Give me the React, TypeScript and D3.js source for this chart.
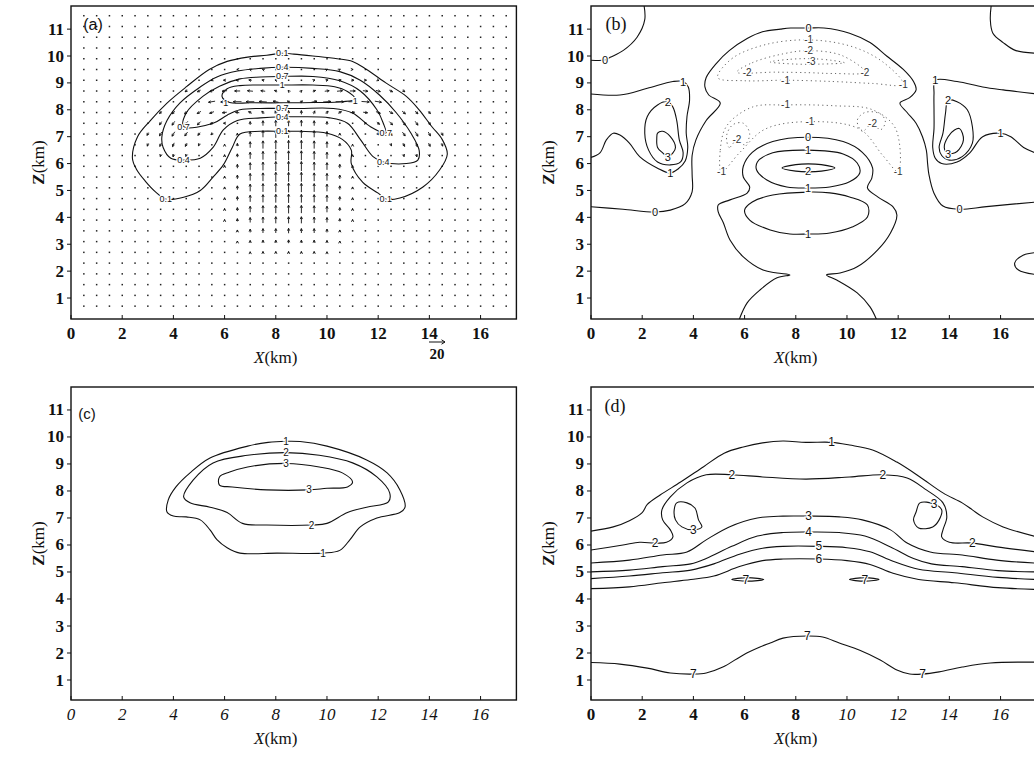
import React from 'react';
import * as d3 from 'd3';

type Pt = [number, number];
type Lab = [string, number, number];
type Vec = [number, number, number, number];
interface Iso { pts: Pt[]; closed?: boolean; dashed?: boolean; labels?: Lab[] }

// ---------- axes ----------
const zTicks = [1, 2, 3, 4, 5, 6, 7, 8, 9, 10, 11];
const xTicks = [0, 2, 4, 6, 8, 10, 12, 14, 16];

// ---------- panel (a): wind vectors on the model grid ----------
const gridX = [0.5, 1, 1.5, 2, 2.5, 3, 3.5, 4, 4.5, 5, 5.5, 6, 6.5, 7, 7.5, 8, 8.5, 9, 9.5, 10, 10.5, 11, 11.5, 12, 12.5, 13, 13.5, 14, 14.5, 15, 15.5, 16, 16.5, 17];
const gridZ = [0.7, 1.1, 1.5, 1.9, 2.3, 2.7, 3.1, 3.5, 3.9, 4.3, 4.7, 5.1, 5.5, 5.9, 6.3, 6.7, 7.1, 7.5, 7.9, 8.3, 8.7, 9.1, 9.5, 9.9, 10.3, 10.7, 11.1, 11.5];

// updraft core (w, m/s)
const coreX = [6.5, 7, 7.5, 8, 8.5, 9, 9.5, 10, 10.5];
const coreZ = [2.7, 3.1, 3.5, 3.9, 4.3, 4.7, 5.1, 5.5, 5.9, 6.3, 6.7, 7.1, 7.5];
const coreW = [
  [1, 2, 3, 3, 3, 3, 3, 2, 1],
  [2, 4, 5, 5, 6, 5, 5, 4, 2],
  [3, 6, 8, 8, 9, 8, 8, 6, 3],
  [5, 9, 11, 12, 12, 12, 11, 9, 5],
  [6, 11, 13, 14, 15, 14, 13, 11, 6],
  [7, 12, 14, 15, 16, 15, 14, 12, 7],
  [7, 13, 15, 16, 17, 16, 15, 13, 7],
  [7, 13, 15, 17, 17, 17, 15, 13, 7],
  [7, 13, 15, 17, 18, 17, 15, 13, 7],
  [6, 12, 15, 17, 17, 17, 15, 12, 6],
  [5, 11, 14, 16, 16, 16, 14, 11, 5],
  [3, 9, 12, 14, 14, 14, 12, 9, 3],
  [1, 6, 9, 11, 11, 11, 9, 6, 1],
];

// [x, z, u, w]
const flankWind: Vec[] = [
  [6, 3.9, 0, 2], [6, 4.3, 0, 3], [6, 4.7, 0, 3], [6, 5.1, 0, 3], [6, 5.5, 0, 3], [6, 5.9, 0, 3], [6, 6.3, 0, 3], [6, 6.7, 0, 2],
  [11, 3.9, 0, 2], [11, 4.3, 0, 3], [11, 4.7, 0, 3], [11, 5.1, 0, 3], [11, 5.5, 0, 3], [11, 5.9, 0, 3], [11, 6.3, 0, 3], [11, 6.7, 0, 2],
];

const outflowLeft: Vec[] = [
  [6.5, 9.5, -2, 0], [7, 9.5, -2, 1], [7.5, 9.5, -2, 1], [8, 9.5, -1, 1],
  [5.5, 9.1, -3, -1], [6, 9.1, -4, 0], [6.5, 9.1, -5, 0], [7, 9.1, -5, 1], [7.5, 9.1, -4, 1], [8, 9.1, -3, 1], [8.5, 9.1, -1, 1],
  [4.5, 8.7, -4, -3], [5, 8.7, -6, -3], [5.5, 8.7, -8, -2], [6, 8.7, -9, -1], [6.5, 8.7, -10, 0], [7, 8.7, -10, 1], [7.5, 8.7, -8, 1], [8, 8.7, -5, 2], [8.5, 8.7, -2, 2],
  [5.5, 8.3, -12, -2], [6, 8.3, -14, -1], [6.5, 8.3, -15, 0], [7, 8.3, -15, 0], [7.5, 8.3, -14, 1], [8, 8.3, -10, 2], [8.5, 8.3, -4, 3],
  [3.5, 7.9, -4, -4], [4, 7.9, -5, -5], [4.5, 7.9, -6, -5], [5, 7.9, -7, -4], [5.5, 7.9, -8, -3], [6, 7.9, -8, -1], [6.5, 7.9, -7, 1], [7, 7.9, -6, 3], [7.5, 7.9, -4, 5], [8, 7.9, -2, 6], [8.5, 7.9, 0, 7],
  [3.5, 7.5, -4, -6], [4, 7.5, -5, -7], [4.5, 7.5, -6, -7], [5, 7.5, -6, -6], [5.5, 7.5, -5, -4], [6, 7.5, -4, 0],
  [3, 7.1, -3, -5], [3.5, 7.1, -4, -7], [4, 7.1, -5, -8], [4.5, 7.1, -5, -7], [5, 7.1, -4, -5], [5.5, 7.1, -3, -3],
  [3, 6.7, -2, -5], [3.5, 6.7, -3, -6], [4, 6.7, -3, -7], [4.5, 6.7, -3, -6], [5, 6.7, -2, -4],
  [3.5, 6.3, -1, -4], [4, 6.3, -1, -5], [4.5, 6.3, -1, -4],
];

const outflowRight: Vec[] = [
  [9.5, 9.5, 1, 1], [10, 9.5, 2, 1], [10.5, 9.5, 2, 1], [11, 9.5, 2, 0],
  [9, 9.1, 1, 1], [9.5, 9.1, 3, 1], [10, 9.1, 4, 1], [10.5, 9.1, 5, 1], [11, 9.1, 5, 0], [11.5, 9.1, 4, 0], [12, 9.1, 3, -1],
  [9, 8.7, 2, 2], [9.5, 8.7, 5, 2], [10, 8.7, 8, 1], [10.5, 8.7, 10, 1], [11, 8.7, 10, 0], [11.5, 8.7, 9, -1], [12, 8.7, 8, -2], [12.5, 8.7, 6, -3], [13, 8.7, 4, -3],
  [9, 8.3, 4, 3], [9.5, 8.3, 10, 2], [10, 8.3, 14, 1], [10.5, 8.3, 15, 0], [11, 8.3, 15, 0], [11.5, 8.3, 14, -1], [12, 8.3, 12, -2],
  [9, 7.9, 0, 7], [9.5, 7.9, 2, 6], [10, 7.9, 4, 5], [10.5, 7.9, 6, 3], [11, 7.9, 7, 1], [11.5, 7.9, 8, -1], [12, 7.9, 8, -3], [12.5, 7.9, 7, -4], [13, 7.9, 6, -5], [13.5, 7.9, 5, -5], [14, 7.9, 4, -4],
  [11.5, 7.5, 4, 0], [12, 7.5, 5, -4], [12.5, 7.5, 6, -6], [13, 7.5, 6, -7], [13.5, 7.5, 5, -7], [14, 7.5, 4, -6],
  [12, 7.1, 3, -3], [12.5, 7.1, 4, -5], [13, 7.1, 5, -7], [13.5, 7.1, 5, -8], [14, 7.1, 4, -7], [14.5, 7.1, 3, -5],
  [12.5, 6.7, 2, -4], [13, 6.7, 3, -6], [13.5, 6.7, 3, -7], [14, 6.7, 3, -6], [14.5, 6.7, 2, -5],
  [13, 6.3, 1, -4], [13.5, 6.3, 1, -5], [14, 6.3, 1, -4],
];

// ---------- panel (a) contours ----------
const a01: Pt[] = [[8.25, 10.1], [8.7, 10.07], [9.45, 10.0], [10.4, 9.9], [11.0, 9.8], [11.55, 9.5], [12.3, 9.0], [13.1, 8.5], [13.6, 8.0], [14.1, 7.37], [14.5, 6.9], [14.7, 6.35], [14.4, 5.76], [13.75, 5.13], [12.85, 4.72], [12.3, 4.68], [12.0, 4.9], [11.4, 5.3], [10.95, 6.0], [10.95, 6.5], [10.6, 6.9], [10.0, 7.13], [8.95, 7.2], [8.25, 7.2], [7.4, 7.2], [6.6, 7.1], [6.3, 6.6], [5.95, 5.95], [5.55, 5.5], [5.05, 5.0], [4.4, 4.75], [3.7, 4.68], [3.3, 4.95], [2.9, 5.35], [2.55, 5.8], [2.4, 6.2], [2.6, 7.0], [3.1, 7.6], [3.75, 8.25], [4.5, 8.85], [5.4, 9.5], [6.1, 9.8], [6.9, 9.96], [7.65, 10.03]];
const a04: Pt[] = [[8.25, 9.58], [9.45, 9.54], [10.5, 9.42], [11.3, 9.1], [12.05, 8.55], [12.7, 7.9], [13.3, 7.1], [13.6, 6.5], [13.55, 6.13], [13.1, 6.0], [12.2, 6.06], [11.8, 6.26], [11.3, 6.9], [10.8, 7.5], [10.1, 7.7], [8.95, 7.74], [8.25, 7.74], [7.4, 7.7], [6.5, 7.6], [5.95, 7.25], [5.55, 6.6], [5.05, 6.2], [4.4, 6.13], [3.9, 6.2], [3.6, 6.6], [3.55, 7.0], [3.75, 7.6], [4.25, 8.25], [5.05, 8.85], [5.7, 9.22], [6.5, 9.44], [7.4, 9.54]];
const a07: Pt[] = [[8.25, 9.24], [9.45, 9.24], [10.5, 9.08], [11.3, 8.7], [11.95, 8.0], [12.2, 7.5], [12.3, 7.13], [11.7, 7.37], [11.0, 7.88], [10.25, 8.05], [8.95, 8.05], [8.25, 8.05], [7.4, 8.05], [6.6, 8.0], [6.1, 7.8], [5.55, 7.5], [4.4, 7.37], [4.5, 7.88], [5.15, 8.5], [5.8, 8.88], [6.6, 9.15], [7.4, 9.22]];
const a10: Pt[] = [[5.9, 8.5], [6.1, 8.78], [6.6, 8.9], [7.4, 8.92], [8.25, 8.92], [9.45, 8.92], [10.3, 8.86], [10.8, 8.68], [11.1, 8.4], [10.6, 8.3], [9.5, 8.27], [8.25, 8.26], [7.0, 8.26], [6.2, 8.27]];
const aLabels: Lab[] = [
  ['0.1', 8.25, 10.1], ['0.4', 8.25, 9.58], ['0.7', 8.25, 9.24], ['1', 8.25, 8.92],
  ['1', 6.05, 8.27], ['1', 11.1, 8.32], ['0.7', 8.25, 8.05], ['0.4', 8.25, 7.74], ['0.1', 8.25, 7.2],
  ['0.7', 4.4, 7.37], ['0.4', 4.4, 6.13], ['0.1', 3.7, 4.68],
  ['0.7', 12.3, 7.13], ['0.4', 12.2, 6.06], ['0.1', 12.3, 4.68],
];

// ---------- panel (b) contours ----------
const b0TopLeft: Pt[] = [[-0.1, 9.85], [0.55, 9.85], [0.75, 9.95], [1.25, 10.2], [1.8, 10.7], [2.1, 11.35], [2.05, 12.0]];
const b0TopRight: Pt[] = [[15.65, 12.0], [15.6, 11.35], [15.7, 10.85], [16.1, 10.5], [16.6, 10.2], [17.5, 10.1]];
const b1Left: Pt[] = [[-0.1, 8.6], [1.13, 8.55], [2.2, 8.8], [3.2, 9.05], [3.6, 9.05], [3.8, 8.85], [3.85, 8.36], [3.75, 7.75], [3.72, 7.13], [3.78, 6.6], [3.68, 6.1], [3.4, 5.8], [3.1, 5.65], [2.6, 5.83], [1.9, 6.26], [1.5, 6.76], [1.13, 7.06], [0.87, 7.13], [0.6, 6.88], [0.35, 6.4], [-0.1, 6.2]];
const b1Right: Pt[] = [[17.5, 8.58], [16.1, 8.74], [15.3, 8.85], [14.3, 9.05], [13.45, 9.1], [13.4, 8.6], [13.4, 8.0], [13.4, 7.3], [13.35, 6.6], [13.45, 6.2], [13.7, 6.0], [14.3, 6.06], [14.8, 6.4], [15.3, 7.0], [16.0, 7.13], [16.4, 7.0], [16.9, 6.6], [17.5, 6.35]];
const b2Left: Pt[] = [[3.0, 8.3], [2.6, 8.18], [2.2, 7.75], [2.1, 7.13], [2.25, 6.5], [2.6, 6.06], [3.1, 5.95], [3.5, 6.06], [3.6, 6.4], [3.45, 6.88], [3.35, 7.6], [3.2, 8.1]];
const b2Right: Pt[] = [[13.95, 8.36], [14.3, 8.3], [14.7, 8.0], [14.9, 7.37], [14.9, 6.76], [14.5, 6.26], [14.0, 6.13], [13.7, 6.3], [13.6, 6.6], [13.75, 7.13], [13.85, 7.88]];
const b3Left: Pt[] = [[2.6, 7.13], [2.8, 7.2], [3.1, 7.0], [3.3, 6.6], [3.2, 6.4], [3.0, 6.26], [2.8, 6.4], [2.6, 6.6], [2.57, 6.95]];
const b3Right: Pt[] = [[14.2, 7.25], [14.4, 7.3], [14.55, 6.88], [14.3, 6.45], [13.95, 6.37], [13.8, 6.6], [13.95, 7.0]];
const b0Dome: Pt[] = [[-0.1, 4.4], [1.25, 4.3], [2.5, 4.2], [3.1, 4.27], [3.67, 4.5], [3.95, 4.95], [3.95, 5.6], [3.95, 6.3], [4.1, 6.88], [4.5, 7.6], [5.05, 8.25], [4.6, 8.55], [4.45, 8.85], [4.5, 9.2], [4.9, 9.73], [5.4, 10.2], [6.1, 10.65], [6.7, 10.9], [7.4, 11.0], [7.8, 11.04], [8.5, 11.04], [9.1, 11.04], [10.1, 10.85], [10.9, 10.5], [11.55, 10.0], [12.2, 9.5], [12.6, 9.05], [12.7, 8.74], [12.45, 8.45], [12.07, 8.25], [12.35, 7.9], [12.7, 7.5], [12.95, 7.0], [13.1, 6.5], [13.15, 6.0], [13.2, 5.6], [13.4, 4.9], [13.75, 4.42], [14.4, 4.3], [15.45, 4.4], [17.5, 4.58]];
const b0Centre: Pt[] = [[5.75, 0.1], [6.1, 0.82], [6.6, 1.3], [7.27, 1.75], [7.77, 1.86], [7.27, 1.93], [6.72, 2.04], [5.95, 2.53], [5.43, 3.16], [5.17, 3.8], [4.97, 4.2], [4.97, 4.46], [5.43, 4.65], [6.1, 4.9], [6.2, 5.13], [5.95, 5.5], [5.95, 5.9], [6.3, 6.42], [7.1, 6.82], [8.48, 6.98], [9.85, 6.82], [10.6, 6.42], [11.0, 5.84], [10.97, 5.46], [10.8, 5.1], [11.2, 4.76], [11.8, 4.39], [11.95, 4.09], [11.7, 3.42], [11.2, 2.79], [10.4, 2.16], [9.73, 1.93], [9.2, 1.86], [9.6, 1.67], [10.4, 1.19], [10.9, 0.67], [11.2, 0.1]];
const b1Upper: Pt[] = [[7.1, 6.4], [8.48, 6.5], [9.85, 6.36], [10.4, 6.02], [10.5, 5.65], [10.1, 5.32], [9.33, 5.13], [8.48, 5.09], [7.65, 5.13], [6.87, 5.39], [6.47, 5.76], [6.5, 6.06]];
const b2Lens: Pt[] = [[7.46, 5.84], [8.0, 5.96], [8.48, 5.99], [9.0, 5.96], [9.53, 5.84], [9.0, 5.72], [8.48, 5.69], [8.0, 5.72]];
const b1Lower: Pt[] = [[7.1, 4.83], [8.48, 4.94], [9.33, 4.91], [10.1, 4.76], [10.8, 4.46], [10.8, 4.01], [10.2, 3.64], [9.33, 3.42], [8.48, 3.38], [7.77, 3.38], [7.0, 3.53], [6.2, 3.9], [6.0, 4.27], [6.3, 4.57]];
const b1Corner: Pt[] = [[17.5, 2.7], [16.9, 2.6], [16.55, 2.3], [16.7, 2.04], [17.5, 1.86]];
// negative (dashed) contours
const bn1Top: Pt[] = [[4.95, 9.2], [5.5, 9.9], [6.8, 10.42], [8.5, 10.6], [10.2, 10.35], [11.4, 9.78], [12.2, 8.95], [11.0, 8.98], [9.5, 9.05], [7.6, 9.1], [6.0, 9.08]];
const bn2Top: Pt[] = [[5.7, 9.4], [6.3, 9.75], [7.5, 10.08], [8.5, 10.2], [9.8, 10.02], [10.7, 9.4], [9.5, 9.35], [8.5, 9.38], [7.2, 9.4]];
const bn3Top: Pt[] = [[7.0, 9.78], [7.8, 9.88], [8.6, 9.9], [9.4, 9.84], [9.9, 9.75], [9.0, 9.7], [8.0, 9.7]];
const bn1Ring: Pt[] = [[5.1, 5.7], [5.05, 6.5], [5.3, 7.4], [6.3, 8.1], [7.6, 8.18], [9.5, 8.15], [11.0, 8.0], [11.9, 7.3], [12.0, 5.7], [11.4, 6.3], [10.5, 7.28], [8.55, 7.56], [6.8, 7.28], [5.8, 6.4]];
const bn2Left: Pt[] = [[5.7, 6.88], [5.4, 6.6], [5.3, 7.05], [5.55, 7.45], [5.95, 7.5], [6.2, 7.1], [6.0, 6.7]];
const bn2Right: Pt[] = [[11.0, 7.5], [10.6, 7.2], [10.4, 7.6], [10.7, 7.9], [11.3, 7.85], [11.5, 7.55], [11.3, 7.25]];

// ---------- panel (c) contours ----------
const c1: Pt[] = [[8.4, 9.84], [8.95, 9.83], [10.0, 9.66], [11.55, 9.15], [12.35, 8.67], [12.85, 8.04], [13.05, 7.4], [12.85, 7.2], [11.95, 7.0], [11.3, 6.67], [10.9, 6.2], [10.5, 5.8], [9.85, 5.7], [8.05, 5.7], [6.6, 5.7], [6.1, 5.9], [5.7, 6.2], [5.43, 6.56], [5.05, 6.93], [4.5, 7.04], [4.0, 7.07], [3.75, 7.22], [3.8, 7.67], [4.1, 8.15], [4.65, 8.67], [5.43, 9.22], [6.9, 9.66], [7.7, 9.8]];
const c2: Pt[] = [[8.4, 9.42], [9.7, 9.32], [11.0, 9.04], [11.95, 8.52], [12.45, 7.93], [12.4, 7.6], [11.55, 7.4], [10.8, 7.2], [10.0, 6.8], [9.4, 6.74], [7.65, 6.74], [6.7, 6.8], [6.1, 7.2], [5.43, 7.4], [4.65, 7.56], [4.4, 7.78], [4.77, 8.4], [5.55, 9.04], [6.9, 9.32]];
const c3: Pt[] = [[5.8, 8.52], [6.2, 8.7], [6.9, 8.89], [8.4, 9.02], [9.7, 8.89], [10.6, 8.67], [11.0, 8.33], [10.8, 8.15], [10.0, 8.1], [9.3, 8.04], [7.65, 8.04], [6.3, 8.15], [5.8, 8.22]];

// ---------- panel (d) contours ----------
const dLev1: Pt[] = [[-0.1, 6.5], [0.87, 6.67], [1.5, 6.9], [2.0, 7.2], [2.2, 7.5], [2.7, 7.85], [3.5, 8.33], [4.4, 8.9], [5.2, 9.4], [5.95, 9.63], [6.7, 9.78], [7.5, 9.85], [8.4, 9.8], [9.4, 9.8], [10.1, 9.7], [11.0, 9.52], [11.95, 9.07], [12.85, 8.52], [13.75, 7.93], [14.5, 7.56], [14.9, 7.3], [15.3, 7.04], [16.1, 6.67], [17.5, 6.28]];
const dLev2: Pt[] = [[-0.1, 5.8], [1.25, 6.0], [1.9, 6.1], [2.5, 6.07], [2.95, 6.1], [3.2, 6.3], [3.1, 6.56], [2.8, 6.93], [2.77, 7.3], [3.1, 7.78], [3.75, 8.3], [4.5, 8.6], [5.5, 8.6], [6.7, 8.52], [8.4, 8.44], [10.1, 8.52], [11.4, 8.6], [12.35, 8.48], [13.1, 8.04], [13.75, 7.56], [13.9, 7.04], [13.75, 6.56], [13.7, 6.3], [14.0, 6.1], [14.9, 6.07], [15.85, 5.93], [17.5, 5.73]];
const dLev3Left: Pt[] = [[3.35, 7.56], [3.75, 7.56], [4.06, 7.37], [4.2, 6.93], [4.33, 6.67], [4.0, 6.56], [3.55, 6.67], [3.3, 6.93], [3.25, 7.3]];
const dLev3Right: Pt[] = [[12.85, 7.56], [13.4, 7.52], [13.7, 7.3], [13.6, 6.93], [13.35, 6.67], [12.8, 6.63], [12.6, 6.93], [12.7, 7.22]];
const dLev3: Pt[] = [[-0.1, 5.33], [1.5, 5.44], [2.8, 5.63], [3.75, 5.74], [4.5, 6.19], [5.4, 6.67], [6.5, 7.0], [7.5, 7.07], [8.5, 7.07], [9.7, 7.04], [10.6, 6.93], [11.7, 6.56], [12.35, 6.07], [13.25, 5.74], [14.5, 5.63], [15.85, 5.44], [17.5, 5.32]];
const dLev4: Pt[] = [[-0.1, 5.0], [1.5, 5.07], [2.8, 5.2], [3.9, 5.3], [4.5, 5.5], [5.5, 5.95], [6.5, 6.33], [7.5, 6.46], [8.5, 6.48], [9.7, 6.46], [10.7, 6.33], [11.7, 5.93], [12.6, 5.5], [13.3, 5.3], [14.5, 5.2], [15.9, 5.05], [17.5, 5.0]];
const dLev5: Pt[] = [[-0.1, 4.75], [1.5, 4.85], [2.8, 4.97], [3.9, 5.07], [4.8, 5.3], [5.8, 5.66], [6.7, 5.88], [7.5, 5.95], [8.9, 5.95], [10.0, 5.9], [10.9, 5.75], [11.8, 5.4], [12.8, 5.1], [14.2, 4.97], [15.9, 4.8], [17.5, 4.72]];
const dLev6: Pt[] = [[-0.1, 4.38], [1.5, 4.45], [2.8, 4.6], [3.9, 4.72], [4.8, 4.85], [5.8, 5.2], [6.7, 5.42], [7.5, 5.48], [8.9, 5.48], [10.0, 5.42], [10.9, 5.28], [11.8, 4.95], [12.8, 4.72], [14.2, 4.6], [15.9, 4.42], [17.5, 4.35]];
const dLev7Left: Pt[] = [[5.5, 4.72], [6.1, 4.79], [6.75, 4.72], [6.1, 4.66]];
const dLev7Right: Pt[] = [[10.1, 4.72], [10.7, 4.79], [11.25, 4.72], [10.7, 4.66]];
const dLev7Low: Pt[] = [[-0.1, 1.65], [1.13, 1.59], [2.2, 1.44], [3.1, 1.26], [4.0, 1.22], [4.5, 1.26], [5.15, 1.48], [5.95, 1.93], [6.6, 2.22], [7.0, 2.37], [7.5, 2.55], [8.45, 2.63], [9.05, 2.59], [9.7, 2.37], [10.5, 2.1], [11.3, 1.74], [11.95, 1.37], [12.45, 1.22], [12.95, 1.22], [13.6, 1.3], [14.5, 1.48], [15.6, 1.63], [17.5, 1.66]];

const isosA: Iso[] = [
  { pts: a01, closed: true }, { pts: a04, closed: true }, { pts: a07, closed: true }, { pts: a10, closed: true, labels: aLabels },
];
const isosB: Iso[] = [
  { pts: b0TopLeft, labels: [['0', 0.55, 9.85]] },
  { pts: b0TopRight },
  { pts: b1Left, labels: [['1', 3.6, 9.05], ['1', 3.1, 5.65]] },
  { pts: b1Right, labels: [['1', 13.45, 9.1], ['1', 16.0, 7.13]] },
  { pts: b2Left, closed: true, labels: [['2', 3.0, 8.3]] },
  { pts: b2Right, closed: true, labels: [['2', 13.95, 8.36]] },
  { pts: b3Left, closed: true, labels: [['3', 3.0, 6.26]] },
  { pts: b3Right, closed: true, labels: [['3', 13.95, 6.37]] },
  { pts: b0Dome, labels: [['0', 2.5, 4.2], ['0', 8.5, 11.04], ['0', 14.4, 4.3]] },
  { pts: b0Centre, labels: [['0', 8.48, 6.98]] },
  { pts: b1Upper, closed: true, labels: [['1', 8.48, 6.5], ['1', 8.48, 5.09]] },
  { pts: b2Lens, closed: true, labels: [['2', 8.48, 5.74]] },
  { pts: b1Lower, closed: true, labels: [['1', 8.48, 3.38]] },
  { pts: b1Corner },
  { pts: bn1Top, closed: true, dashed: true, labels: [['-1', 8.5, 10.6], ['-1', 7.6, 9.1], ['-1', 12.2, 8.95]] },
  { pts: bn2Top, closed: true, dashed: true, labels: [['-2', 8.5, 10.2], ['-2', 6.1, 9.4], ['-2', 10.7, 9.4]] },
  { pts: bn3Top, closed: true, dashed: true, labels: [['-3', 8.6, 9.8]] },
  { pts: bn1Ring, closed: true, dashed: true, labels: [['-1', 7.6, 8.18], ['-1', 8.55, 7.56], ['-1', 5.1, 5.7], ['-1', 12.0, 5.7]] },
  { pts: bn2Left, closed: true, dashed: true, labels: [['-2', 5.7, 6.88]] },
  { pts: bn2Right, closed: true, dashed: true, labels: [['-2', 11.0, 7.5]] },
];
const isosC: Iso[] = [
  { pts: c1, closed: true, labels: [['1', 8.4, 9.84], ['1', 9.85, 5.7]] },
  { pts: c2, closed: true, labels: [['2', 8.4, 9.42], ['2', 9.4, 6.74]] },
  { pts: c3, closed: true, labels: [['3', 8.4, 9.02], ['3', 9.3, 8.04]] },
];
const isosD: Iso[] = [
  { pts: dLev1, labels: [['1', 9.4, 9.8]] },
  { pts: dLev2, labels: [['2', 2.5, 6.07], ['2', 5.5, 8.6], ['2', 11.4, 8.6], ['2', 14.9, 6.07]] },
  { pts: dLev3Left, closed: true, labels: [['3', 4.0, 6.56]] },
  { pts: dLev3Right, closed: true, labels: [['3', 13.4, 7.52]] },
  { pts: dLev3, labels: [['3', 8.5, 7.07]] },
  { pts: dLev4, labels: [['4', 8.5, 6.48]] },
  { pts: dLev5, labels: [['5', 8.9, 5.95]] },
  { pts: dLev6, labels: [['6', 8.9, 5.48]] },
  { pts: dLev7Left, closed: true, labels: [['7', 6.05, 4.72]] },
  { pts: dLev7Right, closed: true, labels: [['7', 10.7, 4.72]] },
  { pts: dLev7Low, labels: [['7', 4.0, 1.22], ['7', 8.45, 2.63], ['7', 12.95, 1.22]] },
];

// ---------- scales ----------
const xLeft = d3.scaleLinear().domain([0, 17.4]).range([71, 516.4]);
const xRight = d3.scaleLinear().domain([0, 17.4]).range([591, 1036.4]);
const zTop = d3.scaleLinear().domain([0.22, 11.86]).range([319, 6]);
const zBottom = d3.scaleLinear().domain([0.26, 11.85]).range([700, 387]);

const SERIF = '"Liberation Serif", "Times New Roman", serif';
const SANS = '"Liberation Sans", Arial, sans-serif';

const openLine = d3.line<Pt>().curve(d3.curveCatmullRom.alpha(0.5));
const closedLine = d3.line<Pt>().curve(d3.curveCatmullRomClosed.alpha(0.5));

type Lin = d3.ScaleLinear<number, number>;

function Contours({ isos, sx, sz, fontSize }: { isos: Iso[]; sx: Lin; sz: Lin; fontSize: number }) {
  const px = (p: Pt): Pt => [sx(p[0]), sz(p[1])];
  return (
    <g>
      {isos.map((c, i) => (
        <path key={'p' + i} d={(c.closed ? closedLine : openLine)(c.pts.map(px)) || ''}
          fill="none" stroke={c.dashed ? '#666' : '#111'} strokeWidth={c.dashed ? 1 : 1.1}
          strokeDasharray={c.dashed ? '1.2 3.2' : undefined} />
      ))}
      {isos.flatMap((c, i) => (c.labels || []).map((l, j) => (
        <text key={`l${i}-${j}`} x={sx(l[1])} y={sz(l[2])} textAnchor="middle" dominantBaseline="central"
          fontFamily={SANS} fontSize={c.dashed ? fontSize - 1 : fontSize} fill={c.dashed ? '#333' : '#111'}
          stroke="#fff" strokeWidth={2.5} paintOrder="stroke">{l[0]}</text>
      )))}
    </g>
  );
}

function WindField({ sx, sz }: { sx: Lin; sz: Lin }) {
  const key = (x: number, z: number) => x.toFixed(1) + '|' + z.toFixed(1);
  const wind = new Map<string, [number, number]>();
  coreZ.forEach((z, i) => coreX.forEach((x, j) => wind.set(key(x, z), [0, coreW[i][j]])));
  [...flankWind, ...outflowLeft, ...outflowRight].forEach(([x, z, u, w]) => wind.set(key(x, z), [u, w]));
  const k = 0.55;
  const marks: React.ReactNode[] = [];
  gridZ.forEach(z => gridX.forEach(x => {
    const v = wind.get(key(x, z));
    const cx = sx(x), cy = sz(z);
    if (!v || Math.hypot(v[0], v[1]) < 1.5) {
      marks.push(<rect key={key(x, z)} x={cx - 0.7} y={cy - 0.7} width={1.5} height={1.5} fill="#222" />);
      return;
    }
    const dx = v[0] * k, dy = -v[1] * k;
    const x0 = cx - dx / 2, y0 = cy - dy / 2, x1 = cx + dx / 2, y1 = cy + dy / 2;
    const ang = Math.atan2(dy, dx), h = 2.6;
    const hx1 = x1 - h * Math.cos(ang - 0.45), hy1 = y1 - h * Math.sin(ang - 0.45);
    const hx2 = x1 - h * Math.cos(ang + 0.45), hy2 = y1 - h * Math.sin(ang + 0.45);
    marks.push(<path key={key(x, z)} d={`M${x0},${y0}L${x1},${y1}M${hx1},${hy1}L${x1},${y1}L${hx2},${hy2}`}
      fill="none" stroke="#111" strokeWidth={0.9} />);
  }));
  return <g>{marks}</g>;
}

interface PanelProps {
  id: string; sx: Lin; sz: Lin; tag: string; tagFont: string; tagSize: number; tagPos: Pt;
  xTickItalic: (v: number) => boolean; zLabelX: number; children: React.ReactNode;
}

function Panel({ id, sx, sz, tag, tagFont, tagSize, tagPos, xTickItalic, zLabelX, children }: PanelProps) {
  const [x0, x1] = sx.range();
  const [yb, yt] = sz.range();
  const clip = 'clip-' + id;
  return (
    <g>
      <defs>
        <clipPath id={clip}><rect x={x0} y={yt} width={x1 - x0} height={yb - yt} /></clipPath>
      </defs>
      <g clipPath={`url(#${clip})`}>{children}</g>
      <rect x={x0} y={yt} width={x1 - x0} height={yb - yt} fill="none" stroke="#111" strokeWidth={1.4} />
      {zTicks.map(t => (
        <g key={'z' + t}>
          <line x1={x0 - 4} x2={x0} y1={sz(t)} y2={sz(t)} stroke="#111" strokeWidth={1} />
          <text x={x0 - 7} y={sz(t)} textAnchor="end" dominantBaseline="central" fontFamily={SERIF}
            fontWeight="bold" fontSize={17} fill="#111">{t}</text>
        </g>
      ))}
      {xTicks.map(t => (
        <g key={'x' + t}>
          <line x1={sx(t)} x2={sx(t)} y1={yb} y2={yb - 4} stroke="#111" strokeWidth={1} />
          <text x={sx(t)} y={yb + 14} textAnchor="middle" dominantBaseline="central" fontFamily={SERIF}
            fontWeight={xTickItalic(t) ? 'normal' : 'bold'} fontStyle={xTickItalic(t) ? 'italic' : 'normal'}
            fontSize={17} fill="#111">{t}</text>
        </g>
      ))}
      <text x={sx(8)} y={yb + 38} textAnchor="middle" dominantBaseline="central" fontFamily={SERIF} fontSize={17} fill="#111">
        <tspan fontStyle="italic">X</tspan>(km)
      </text>
      <text transform={`translate(${zLabelX},${(yb + yt) / 2}) rotate(-90)`} textAnchor="middle" dominantBaseline="central"
        fontFamily={SERIF} fontSize={17} fill="#111">
        <tspan fontWeight="bold">Z</tspan>(km)
      </text>
      <text x={tagPos[0]} y={tagPos[1]} textAnchor="middle" dominantBaseline="central" fontFamily={tagFont}
        fontSize={tagSize} fill="#111">{tag}</text>
    </g>
  );
}

export default function App() {
  return (
    <svg width={1034} height={759} viewBox="0 0 1034 759"
      style={{ position: 'fixed', left: 0, top: 0, background: '#fff', display: 'block' }}>
      <rect width={1034} height={759} fill="#fff" />
      <Panel id="a" sx={xLeft} sz={zTop} tag="(a)" tagFont={SANS} tagSize={16} tagPos={[93, 24]}
        xTickItalic={() => false} zLabelX={38}>
        <WindField sx={xLeft} sz={zTop} />
        <Contours isos={isosA} sx={xLeft} sz={zTop} fontSize={9} />
      </Panel>
      <Panel id="b" sx={xRight} sz={zTop} tag="(b)" tagFont={SERIF} tagSize={18} tagPos={[616, 24]}
        xTickItalic={() => false} zLabelX={548}>
        <Contours isos={isosB} sx={xRight} sz={zTop} fontSize={11} />
      </Panel>
      <Panel id="c" sx={xLeft} sz={zBottom} tag="(c)" tagFont={SANS} tagSize={15} tagPos={[87, 413]}
        xTickItalic={() => true} zLabelX={38}>
        <Contours isos={isosC} sx={xLeft} sz={zBottom} fontSize={10} />
      </Panel>
      <Panel id="d" sx={xRight} sz={zBottom} tag="(d)" tagFont={SERIF} tagSize={18} tagPos={[615, 406]}
        xTickItalic={v => v >= 10} zLabelX={548}>
        <Contours isos={isosD} sx={xRight} sz={zBottom} fontSize={12} />
      </Panel>
      {/* reference vector */}
      <g>
        <path d="M429,342L445,342M441.5,339.8L445,342L441.5,344.2" fill="none" stroke="#111" strokeWidth={1} />
        <text x={437} y={354} textAnchor="middle" dominantBaseline="central" fontFamily={SERIF} fontWeight="bold"
          fontSize={15} fill="#111">20</text>
      </g>
    </svg>
  );
}
